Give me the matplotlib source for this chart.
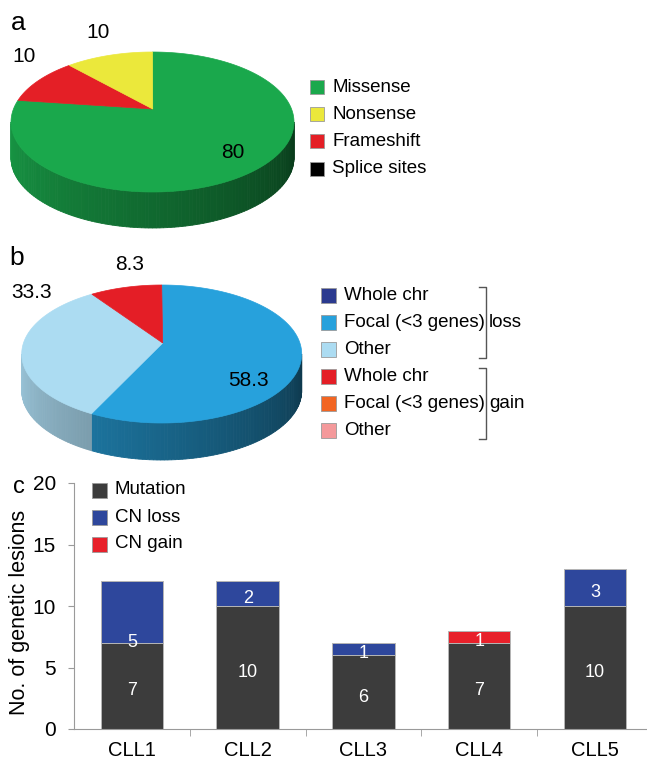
import numpy as np
import matplotlib
matplotlib.use('Agg')
import matplotlib.pyplot as plt
from matplotlib.patches import Rectangle
from matplotlib.colors import to_rgb

plt.rcParams['font.family'] = ['Liberation Sans', 'DejaVu Sans']

# --- data -------------------------------------------------------------
# panel a: mutation types (%)
mut_labels = ['Missense', 'Nonsense', 'Frameshift', 'Splice sites']
mut_pct = [80, 10, 10, 0]
mut_colors = ['#1aa84c', '#ebe83b', '#e41f26', '#000000']
mut_order = [0, 2, 1, 3]          # clockwise from 12 o'clock

# panel b: copy number lesions (%)
cn_labels = ['Whole chr', 'Focal (<3 genes)', 'Other',
             'Whole chr', 'Focal (<3 genes)', 'Other']
cn_pct = [0, 58.3, 33.3, 8.3, 0, 0]
cn_colors = ['#2b3a8f', '#27a1dc', '#acdcf2', '#e41e26', '#f26522', '#f4999b']
cn_order = [0, 1, 2, 3, 4, 5]
cn_groups = ['loss', 'gain']

# panel c: lesions per patient
samples = ['CLL1', 'CLL2', 'CLL3', 'CLL4', 'CLL5']
mutation = [7, 10, 6, 7, 10]
cn_loss = [5, 2, 1, 0, 3]
cn_gain = [0, 0, 0, 1, 0]
bar_labels = ['Mutation', 'CN loss', 'CN gain']
bar_colors = ['#3c3c3c', '#2e479c', '#e8202a']

W, H = 647, 759
fig = plt.figure(figsize=(W / 100, H / 100), dpi=100)


def wedges(vals, order, start=90):
    total = float(sum(vals))
    out = []
    t = start
    for i in order:
        span = 360.0 * vals[i] / total
        if span > 0:
            out.append((i, t - span, t))
        t -= span
    return out


def pie3d(ax, vals, colors, order, cx, cy, rx, ry, depth, apex):
    ws = wedges(vals, order)
    # side wall, only the front half is visible
    for i, t1, t2 in ws:
        base = np.array(to_rgb(colors[i]))
        for k in (-1, 0, 1):
            lo = max(t1, 180 + 360 * k)
            hi = min(t2, 360 + 360 * k)
            if hi <= lo:
                continue
            edges = np.linspace(lo, hi, int(np.ceil((hi - lo) / 1.5)) + 1)
            for e0, e1 in zip(edges[:-1], edges[1:]):
                th = np.radians([e0, e1])
                xs = cx + rx * np.cos(th)
                ys = cy - ry * np.sin(th)
                u = ((e0 + e1) / 2 - 360 * k - 180) / 180.0
                c = np.clip(base * (0.9 - 0.55 * u), 0, 1)
                ax.fill([xs[0], xs[1], xs[1], xs[0]],
                        [ys[0], ys[1], ys[1] + depth, ys[0] + depth],
                        color=c, ec=c, lw=0.6)
    # top face
    for i, t1, t2 in ws:
        th = np.radians(np.linspace(t1, t2, max(int(t2 - t1), 2)))
        xs = np.r_[apex[0], cx + rx * np.cos(th)]
        ys = np.r_[apex[1], cy - ry * np.sin(th)]
        ax.fill(xs, ys, color=colors[i], ec=colors[i], lw=0.5)


def squares(ax, labels, colors, x, y0, dy, s=14, fs=13.5):
    for j, (lab, col) in enumerate(zip(labels, colors)):
        yc = y0 + j * dy
        ax.add_patch(Rectangle((x, yc - s / 2), s, s, fc=col, ec='#9a9a9a', lw=0.6))
        ax.text(x + s + 8, yc, lab, fontsize=fs, va='center', ha='left')


# --- panel c: stacked bars ---------------------------------------------
ax = fig.add_axes([74 / W, 30 / H, (W - 74) / W, 246 / H])
xpos = np.arange(len(samples))
bw = 0.54
mut = np.array(mutation)
loss = np.array(cn_loss)
gain = np.array(cn_gain)
ax.bar(xpos, mut, bw, color=bar_colors[0], ec='#b5b5b5', lw=0.7)
ax.bar(xpos, loss, bw, bottom=mut, color=bar_colors[1], ec='#b5b5b5', lw=0.7)
ax.bar(xpos, gain, bw, bottom=mut + loss, color=bar_colors[2], ec='#b5b5b5', lw=0.7)

nudge = {(1, 0): -2.1}
for k, (vals, bottoms) in enumerate([(mut, 0 * mut), (loss, mut), (gain, mut + loss)]):
    for j in range(len(samples)):
        if vals[j] <= 0:
            continue
        yy = bottoms[j] + vals[j] / 2 - 0.4 + nudge.get((k, j), 0)
        ax.text(xpos[j], yy, str(vals[j]), color='white', fontsize=13,
                ha='center', va='center')

ax.set_ylim(0, 20)
ax.set_xlim(-0.5, 4.45)
ax.set_yticks([0, 5, 10, 15, 20])
ax.set_xticks(xpos)
ax.set_xticklabels(samples, fontsize=14.5)
ax.set_xticks(xpos[:-1] + 0.5, minor=True)
ax.tick_params(axis='x', which='major', length=0, pad=9)
ax.tick_params(axis='x', which='minor', length=5, color='#9a9a9a')
ax.tick_params(axis='y', length=4, color='#9a9a9a', labelsize=15, pad=9)
for side in ['top', 'right']:
    ax.spines[side].set_visible(False)
for side in ['left', 'bottom']:
    ax.spines[side].set_color('#9a9a9a')
ax.set_ylabel('No. of genetic lesions', fontsize=15.5)
ax.yaxis.set_label_coords(-0.077, 0.474)

# --- overlay for pies, legends and panel letters ----------------------
ov = fig.add_axes([0, 0, 1, 1], zorder=5)
ov.set_xlim(0, W)
ov.set_ylim(H, 0)
ov.axis('off')
ov.patch.set_alpha(0)

# panel a
pie3d(ov, mut_pct, mut_colors, mut_order, 152.5, 122, 141.5, 70, 36, (152.7, 109))
pos_a = {0: (233, 152), 1: (98, 32), 2: (24, 57)}
for i, (px, py) in pos_a.items():
    ov.text(px, py, '%g' % mut_pct[i], fontsize=15, ha='center', va='center')
squares(ov, mut_labels, mut_colors, 310, 87, 27.2)

# panel b
pie3d(ov, cn_pct, cn_colors, cn_order, 161.7, 354, 140, 69, 37, (162.7, 343))
pos_b = {1: (248, 380), 2: (32, 293), 3: (130, 265)}
for i, (px, py) in pos_b.items():
    ov.text(px, py, '%g' % cn_pct[i], fontsize=15, ha='center', va='center')
squares(ov, cn_labels, cn_colors, 321, 295, 27.1, s=15)
for g, (y1, y2) in zip(cn_groups, [(287, 358), (368, 439)]):
    ov.plot([479, 486, 486, 479], [y1, y1, y2, y2], color='#555555', lw=1)
    ov.text(489, (y1 + y2) / 2, g, fontsize=13.5, va='center', ha='left')

# panel c legend
squares(ov, bar_labels, bar_colors, 92, 490, 27, s=15)

# panel letters
ov.text(18, 23, 'a', fontsize=19, ha='center', va='center')
ov.text(17, 258, 'b', fontsize=19, ha='center', va='center')
ov.text(19, 487, 'c', fontsize=17, ha='center', va='center')

fig.savefig('out.png', dpi=100)
